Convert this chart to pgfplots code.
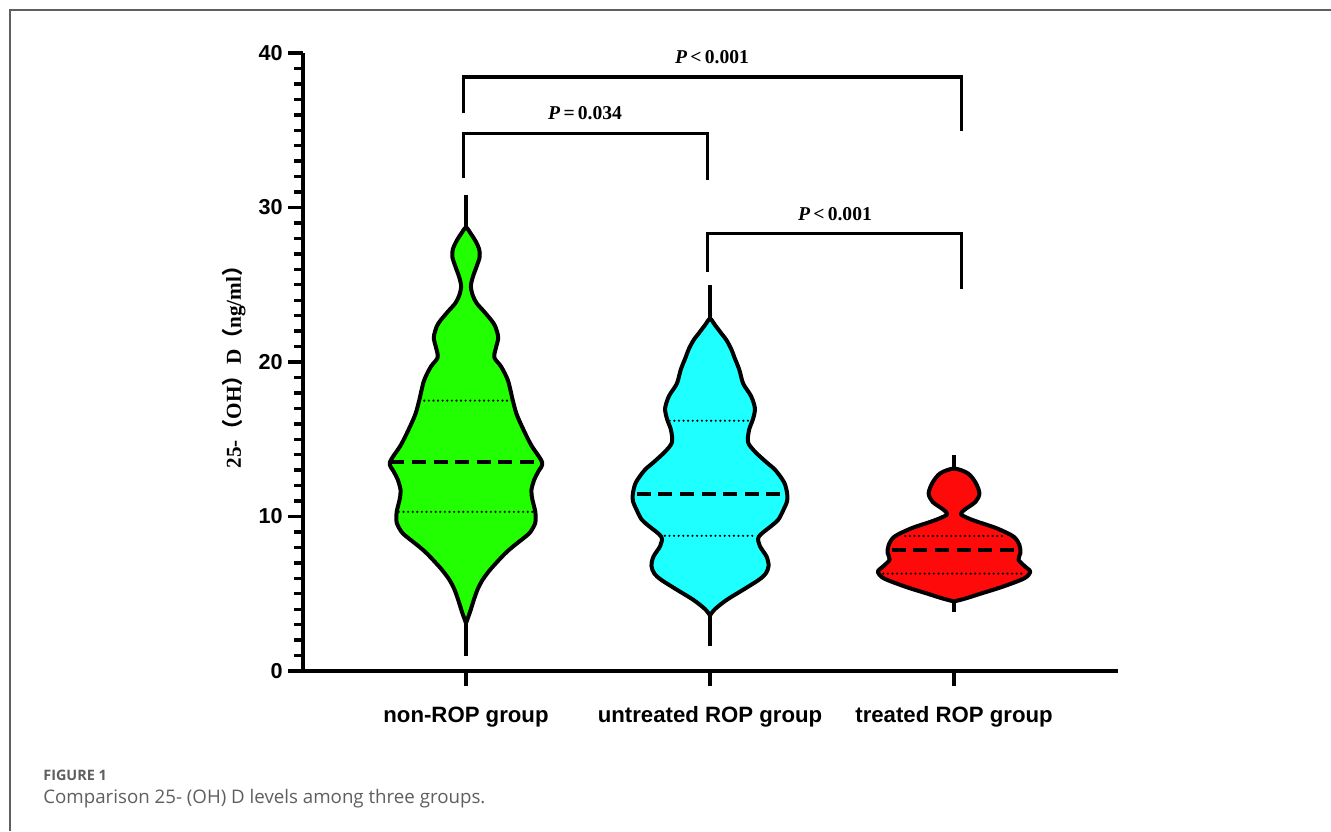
\documentclass[border=0pt]{standalone}
\usepackage{pgfplots}
\pgfplotsset{compat=1.18}
\usepackage{pgfplotstable}
\usepackage{fontspec}
\setmainfont{Liberation Sans}
\newfontfamily\tnr{Liberation Serif}
\newfontfamily\cjk{Noto Sans CJK SC}
\newfontfamily\capfont{Open Sans}
\definecolor{vgreen}{RGB}{34,255,0}
\definecolor{vcyan}{RGB}{30,255,255}
\definecolor{vred}{RGB}{255,10,10}
\definecolor{framegray}{RGB}{95,95,95}
\definecolor{capgray}{RGB}{95,95,95}

% violin outlines: y, signed half-width in pixels (right side up, left side down)
\pgfplotstableread{
y w
3.1 0
3.8 4
4.6 8
5.3 12
5.9 17
6.5 24
7.0 31
7.6 40
8.05 48
8.7 61
9.0 66
9.6 71
10.3 71
11.1 68
11.7 67
12.4 70
12.9 74
13.5 78
14.6 67
15.6 59
16.6 52
17.5 48
18.8 43
19.7 36
20.3 29
21.0 31
21.6 33
22.3 30
22.7 26
23.3 18
23.8 11
24.3 7
24.9 5
25.5 7
26.2 11
26.8 14
27.3 13.5
27.8 10
28.3 5
28.7 0
28.3 -5
27.8 -10
27.3 -13.5
26.8 -14
26.2 -11
25.5 -7
24.9 -5
24.3 -7
23.8 -11
23.3 -18
22.7 -26
22.3 -30
21.6 -33
21.0 -31
20.3 -29
19.7 -36
18.8 -43
17.5 -48
16.6 -52
15.6 -59
14.6 -67
13.5 -78
12.9 -74
12.4 -70
11.7 -67
11.1 -68
10.3 -71
9.6 -71
9.0 -66
8.7 -61
8.05 -48
7.6 -40
7.0 -31
6.5 -24
5.9 -17
5.3 -12
4.6 -8
3.8 -4
3.1 0
}\vGreen

\pgfplotstableread{
y w
3.6 0
4.0 5
4.6 17
5.3 35
5.9 50
6.3 57
6.8 60
7.4 58
8.1 51
8.7 50
9.4 63
9.8 70
10.4 75
11.0 79
11.5 79
12.2 76
13.0 67
13.5 58
14.2 46
14.8 39
15.6 40
16.3 44
17.0 46
17.8 42
18.6 34
19.5 30
20.3 25
20.8 22
21.4 17
21.9 11
22.4 5
22.8 0
22.4 -5
21.9 -11
21.4 -17
20.8 -22
20.3 -25
19.5 -30
18.6 -34
17.8 -42
17.0 -46
16.3 -44
15.6 -40
14.8 -39
14.2 -46
13.5 -58
13.0 -67
12.2 -76
11.5 -79
11.0 -79
10.4 -75
9.8 -70
9.4 -63
8.7 -50
8.1 -51
7.4 -58
6.8 -60
6.3 -57
5.9 -50
5.3 -35
4.6 -17
4.0 -5
3.6 0
}\vCyan

\pgfplotstableread{
y w
4.5 0
4.7 12
5.0 27
5.46 50
6.0 72
6.43 78
6.75 73
7.2 66
7.63 68
8.15 67
8.7 61
9.23 44
9.66 24
9.9 14
10.15 7
10.45 11
10.95 22
11.5 26
12.2 22
12.8 14
13.1 0
12.8 -14
12.2 -22
11.5 -26
10.95 -22
10.45 -11
10.15 -7
9.9 -14
9.66 -24
9.23 -44
8.7 -61
8.15 -67
7.63 -68
7.2 -66
6.75 -73
6.43 -78
6.0 -72
5.46 -50
5.0 -27
4.7 -12
4.5 0
}\vRed

\begin{document}
\begin{tikzpicture}
\useasboundingbox (0,0) rectangle (665.5pt,415.5pt);
\fill[white] (0,0) rectangle (665.5pt,415.5pt);
\draw[framegray, line width=1pt] (4.75pt,0) -- (4.75pt,410.25pt) -- (665.5pt,410.25pt);
\node[anchor=base west, inner sep=0, text=capgray, font=\capfont\bfseries\fontsize{7.2}{8}\selectfont] at (21.5pt,25.5pt) {FIGURE 1};
\node[anchor=base west, inner sep=0, text=capgray, font=\capfont\fontsize{9.35}{11}\selectfont] at (21.5pt,14pt) {Comparison 25- (OH) D levels among three groups.};

\begin{axis}[
  at={(151.5pt,80pt)}, anchor=south west, scale only axis,
  width=407.5pt, height=309pt,
  xmin=-0.668, xmax=2.672, ymin=0, ymax=40,
  clip=false,
  axis x line*=bottom, axis y line*=left,
  axis line style={line width=2pt, black},
  tick align=outside,
  major tick length=7.5pt, minor tick length=4.5pt,
  tick style={line width=1.7pt, black},
  ytick={0,10,20,30,40}, minor y tick num=9,
  xtick={0,1,2},
  xticklabels={non-ROP group, untreated ROP group, treated ROP group},
  /pgf/number format/assume math mode=true,
  yticklabel style={font=\bfseries\fontsize{10.8}{12}\selectfont, anchor=east, inner sep=0pt, xshift=-2.5pt},
  xticklabel style={font=\bfseries\fontsize{11.1}{13}\selectfont, anchor=base, yshift=-18pt},
]
% whiskers
\addplot[black, line width=2pt] coordinates {(0,1.0) (0,30.8)};
\addplot[black, line width=2pt] coordinates {(1,1.6) (1,25.0)};
\addplot[black, line width=2pt] coordinates {(2,3.85) (2,14.0)};
% violins
\addplot[fill=vgreen, draw=black, line width=2pt, smooth, line join=round] table[x expr=0+\thisrow{w}/250, y=y] {\vGreen};
\addplot[fill=vcyan, draw=black, line width=2pt, smooth, line join=round] table[x expr=1+\thisrow{w}/250, y=y] {\vCyan};
\addplot[fill=vred, draw=black, line width=2pt, smooth, line join=round] table[x expr=2+\thisrow{w}/250, y=y] {\vRed};
% medians
\addplot[black, line width=2pt, dash pattern=on 7pt off 3.8pt] coordinates {(-0.31,13.5) (0.31,13.5)};
\addplot[black, line width=2pt, dash pattern=on 7pt off 3.8pt] coordinates {(0.70,11.45) (1.30,11.45)};
\addplot[black, line width=2pt, dash pattern=on 7pt off 3.8pt] coordinates {(1.745,7.83) (2.255,7.83)};
% quartiles
\addplot[black, line width=1.2pt, line cap=round, dash pattern=on 0pt off 2.3pt] coordinates {(-0.19,17.5) (0.19,17.5)};
\addplot[black, line width=1.2pt, line cap=round, dash pattern=on 0pt off 2.3pt] coordinates {(-0.275,10.3) (0.275,10.3)};
\addplot[black, line width=1.2pt, line cap=round, dash pattern=on 0pt off 2.3pt] coordinates {(0.835,16.2) (1.165,16.2)};
\addplot[black, line width=1.2pt, line cap=round, dash pattern=on 0pt off 2.3pt] coordinates {(0.815,8.75) (1.185,8.75)};
\addplot[black, line width=1.2pt, line cap=round, dash pattern=on 0pt off 2.3pt] coordinates {(1.80,8.74) (2.20,8.74)};
\addplot[black, line width=1.2pt, line cap=round, dash pattern=on 0pt off 2.3pt] coordinates {(1.71,6.3) (2.29,6.3)};
% significance brackets
\addplot[black, line width=1.6pt] coordinates {(-0.01,36.1) (-0.01,38.45) (2.03,38.45) (2.03,34.95)};
\addplot[black, line width=1.6pt] coordinates {(-0.01,31.9) (-0.01,34.8) (0.99,34.8) (0.99,31.8)};
\addplot[black, line width=1.6pt] coordinates {(0.99,25.8) (0.99,28.3) (2.03,28.3) (2.03,24.7)};
\node[font=\tnr\bfseries\fontsize{9.8}{11}\selectfont] at (axis cs:1.008,39.74) {\textit{P}\,<\,0.001};
\node[font=\tnr\bfseries\fontsize{9.8}{11}\selectfont] at (axis cs:0.488,36.1) {\textit{P}\,=\,0.034};
\node[font=\tnr\bfseries\fontsize{9.8}{11}\selectfont] at (axis cs:1.512,29.6) {\textit{P}\,<\,0.001};
% y axis label
\node[rotate=90, anchor=center, inner sep=0pt, font=\tnr\bfseries\fontsize{10.6}{12}\selectfont] at ([xshift=-34.5pt]axis description cs:0,0.5) {25-{\cjk （}OH{\cjk ）}D{\cjk （}ng/ml{\cjk ）}};
\end{axis}
\end{tikzpicture}
\end{document}
